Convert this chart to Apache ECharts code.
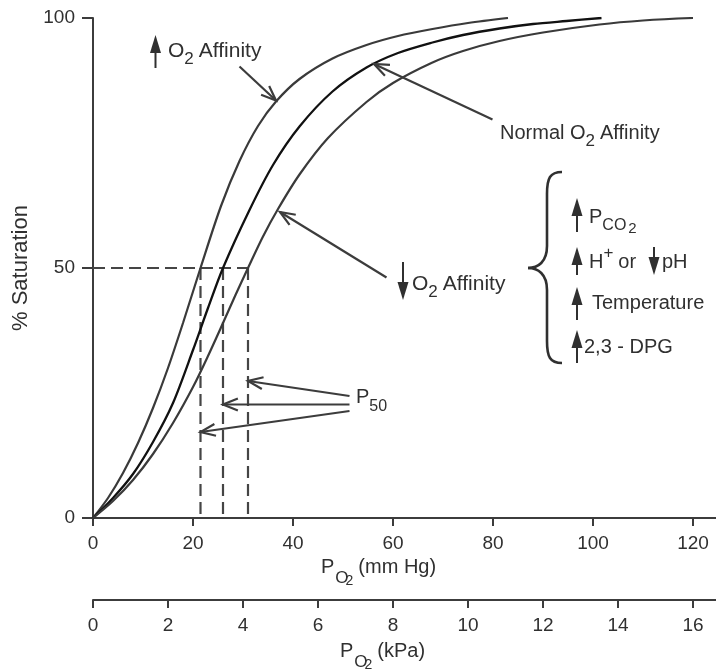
<!DOCTYPE html>
<html>
<head>
<meta charset="utf-8">
<script src="https://cdn.jsdelivr.net/npm/echarts@6/dist/echarts.min.js"></script>
<style>
  html, body { margin: 0; padding: 0; background: #fff; }
  #chart { width: 716px; height: 671px; }
</style>
</head>
<body>
<div id="chart"></div>
<script>
// ---- data ----
const pressureTicks = [0, 20, 40, 60, 80, 100, 120];      // mm Hg
const kpaTicks = [0, 2, 4, 6, 8, 10, 12, 14, 16];          // kPa
const saturationTicks = [0, 50, 100];                      // %

// oxyhaemoglobin dissociation curves: [PO2 mm Hg, % saturation]
const highAffinity = [
  [0, 0], [3, 4], [6, 9], [9, 15], [12, 22], [15, 30], [18, 39], [21.5, 50],
  [25.6, 62.4], [29.3, 71.4], [33, 78.4], [36.6, 83.3], [41.3, 87.8], [47.9, 91.9],
  [54.7, 94.6], [61, 96.4], [67.9, 97.8], [75, 99], [83, 100]
];
const normalAffinity = [
  [0, 0], [4, 4], [8, 8.8], [12, 15.2], [16, 23], [20, 33.6], [23, 42], [26, 50],
  [31.3, 61.6], [36, 70.6], [41.3, 78.3], [47.9, 85.3], [54.7, 90.1], [61, 93],
  [67.9, 95.1], [74, 96.6], [81.3, 97.9], [88, 98.8], [94.7, 99.4], [101.7, 100]
];
const lowAffinity = [
  [0, 0], [4, 3.4], [8, 7.6], [12, 12.8], [16, 19], [20, 26.2], [23, 32.4], [26, 39],
  [28.5, 44.6], [31, 50], [34, 56.3], [37, 61.8], [41.3, 68.7], [47, 76], [54.7, 83.2],
  [60, 87], [67.9, 91.1], [74, 93.4], [81.3, 95.4], [90, 97.1], [101.3, 98.7],
  [110, 99.5], [120, 100]
];
const p50Values = [21.5, 26, 31];     // PO2 at 50 % saturation
const p50Level = 50;

// pointer arrows in data units: [fromPO2, fromSat, toPO2, toSat]
const pointers = [
  [29.3, 90.3, 36.6, 83.5],
  [79.9, 79.7, 56.2, 90.8],
  [58.7, 48.1, 37.4, 61.2],
  [51.3, 24.4, 31, 27.4],
  [51.3, 22.7, 26, 22.7],
  [51.3, 21.4, 21.5, 17.2]
];

// ---- styling ----
const FONT = '"Liberation Sans", Arial, Helvetica, sans-serif';
const INK = '#303030';
const LINE = '#3c3c3c';
const KPA_PER_MMHG = 1 / 7.5;
const X_MAX = 124.6;

const chart = echarts.init(document.getElementById('chart'), null, { renderer: 'canvas' });

const curveStyle = (color, width) => ({
  type: 'line', showSymbol: false, smooth: 0.3,
  lineStyle: { color: color, width: width }, silent: true, z: 3
});

const dashed = { color: '#454545', width: 2.2, type: [12, 6] };
const dashSeries = [
  {
    type: 'line', showSymbol: false, silent: true, z: 2,
    data: [[0, p50Level], [Math.max(...p50Values), p50Level]],
    lineStyle: dashed
  }
].concat(p50Values.map(v => ({
  type: 'line', showSymbol: false, silent: true, z: 2,
  data: [[v, p50Level], [v, 0]],
  lineStyle: dashed
})));

const pointerSeries = {
  type: 'custom', silent: true, clip: false, z: 4,
  data: pointers,
  encode: { x: [0, 2], y: [1, 3] },
  renderItem: function (params, api) {
    const a = api.coord([api.value(0), api.value(1)]);
    const b = api.coord([api.value(2), api.value(3)]);
    const ang = Math.atan2(b[1] - a[1], b[0] - a[0]);
    const L = 16, spread = 0.38;
    const h1 = [b[0] - L * Math.cos(ang - spread), b[1] - L * Math.sin(ang - spread)];
    const h2 = [b[0] - L * Math.cos(ang + spread), b[1] - L * Math.sin(ang + spread)];
    const st = { stroke: LINE, lineWidth: 2.2, fill: null, lineJoin: 'miter' };
    return {
      type: 'group',
      children: [
        { type: 'line', shape: { x1: a[0], y1: a[1], x2: b[0], y2: b[1] }, style: st },
        { type: 'polyline', shape: { points: [h1, b, h2] }, style: st }
      ]
    };
  }
};

const axisText = { color: INK, fontSize: 19, fontFamily: FONT };
const axisLine = { show: true, lineStyle: { color: LINE, width: 2 } };

chart.setOption({
  animation: false,
  backgroundColor: '#ffffff',
  grid: [
    { left: 93, right: 0, top: 18, height: 500 },
    { left: 93, right: 0, top: 599, height: 1 }
  ],
  xAxis: [
    {
      type: 'value', gridIndex: 0, min: 0, max: X_MAX, interval: 20,
      axisLine: axisLine,
      axisTick: { show: true, length: 8, lineStyle: { color: LINE, width: 2 }, customValues: pressureTicks },
      axisLabel: Object.assign({ margin: 16, customValues: pressureTicks }, axisText),
      splitLine: { show: false }
    },
    {
      type: 'value', gridIndex: 1, min: 0, max: X_MAX * KPA_PER_MMHG, interval: 2,
      axisLine: axisLine,
      axisTick: { show: true, length: 8, lineStyle: { color: LINE, width: 2 }, customValues: kpaTicks },
      axisLabel: Object.assign({ margin: 16, customValues: kpaTicks }, axisText),
      splitLine: { show: false }
    }
  ],
  yAxis: [
    {
      type: 'value', gridIndex: 0, min: 0, max: 100, interval: 50,
      name: '% Saturation', nameLocation: 'middle', nameGap: 60,
      nameTextStyle: { color: INK, fontSize: 22, fontFamily: FONT },
      axisLine: axisLine,
      axisTick: { show: true, length: 11, lineStyle: { color: LINE, width: 2 }, customValues: saturationTicks },
      axisLabel: Object.assign({ margin: 18, customValues: saturationTicks }, axisText),
      splitLine: { show: false }
    },
    {
      type: 'value', gridIndex: 0, min: 0, max: 100, interval: 50, position: 'left',
      axisLine: { show: false },
      axisTick: { show: true, inside: true, length: 7, lineStyle: { color: LINE, width: 2 }, customValues: [0, 50] },
      axisLabel: { show: false },
      splitLine: { show: false }
    },
    { type: 'value', gridIndex: 1, min: 0, max: 1, show: false }
  ],
  series: [
    Object.assign(curveStyle('#3a3a3a', 2.2), { data: highAffinity }),
    Object.assign(curveStyle('#111111', 2.3), { data: normalAffinity }),
    Object.assign(curveStyle('#3a3a3a', 2.2), { data: lowAffinity })
  ].concat(dashSeries, [pointerSeries])
});

// ---- annotation text with sub/superscripts ----
const measureCtx = document.createElement('canvas').getContext('2d');
function textWidth(t, size) {
  measureCtx.font = size + 'px ' + FONT;
  return measureCtx.measureText(t).width;
}
// parts: {t, size, dy, gap, dx}; cy = cap-centre line of the main text
function textRun(x, cy, parts) {
  const out = [];
  let cur = x;
  parts.forEach(p => {
    cur += (p.dx || 0);
    out.push({
      type: 'text', x: cur, y: cy + (p.dy || 0), silent: true,
      style: {
        text: p.t, font: p.size + 'px ' + FONT, fill: INK,
        align: 'left', verticalAlign: 'middle'
      }
    });
    cur += textWidth(p.t, p.size) + (p.gap || 0);
  });
  return out;
}
// filled-head arrow glyphs (up / down)
function glyphArrow(cx, y0, y1, up) {
  const w = 11, h = 18;
  const head = up
    ? [[cx, y0], [cx - w / 2, y0 + h], [cx + w / 2, y0 + h]]
    : [[cx, y1], [cx - w / 2, y1 - h], [cx + w / 2, y1 - h]];
  const stem = up ? { x1: cx, y1: y0 + h - 1, x2: cx, y2: y1 } : { x1: cx, y1: y0, x2: cx, y2: y1 - h + 1 };
  return [
    { type: 'polygon', silent: true, shape: { points: head }, style: { fill: INK } },
    { type: 'line', silent: true, shape: stem, style: { stroke: INK, lineWidth: 2 } }
  ];
}
// curly brace opening to the right, tip on the left
function brace(xEnd, xStem, xTip, yTop, yMid, yBot) {
  const st = { stroke: INK, lineWidth: 2.6, fill: null };
  const k = 22;
  return [
    { type: 'bezierCurve', silent: true, shape: { x1: xEnd, y1: yTop, cpx1: xStem + 3, cpy1: yTop, cpx2: xStem, cpy2: yTop + 6, x2: xStem, y2: yTop + k }, style: st },
    { type: 'line', silent: true, shape: { x1: xStem, y1: yTop + k, x2: xStem, y2: yMid - k }, style: st },
    { type: 'bezierCurve', silent: true, shape: { x1: xStem, y1: yMid - k, cpx1: xStem, cpy1: yMid - 6, cpx2: xTip + 10, cpy2: yMid, x2: xTip, y2: yMid }, style: st },
    { type: 'bezierCurve', silent: true, shape: { x1: xTip, y1: yMid, cpx1: xTip + 10, cpy1: yMid, cpx2: xStem, cpy2: yMid + 6, x2: xStem, y2: yMid + k }, style: st },
    { type: 'line', silent: true, shape: { x1: xStem, y1: yMid + k, x2: xStem, y2: yBot - k }, style: st },
    { type: 'bezierCurve', silent: true, shape: { x1: xStem, y1: yBot - k, cpx1: xStem, cpy1: yBot - 6, cpx2: xStem + 3, cpy2: yBot, x2: xEnd, y2: yBot }, style: st }
  ];
}

const S = 20;
let g = [];
// increased affinity label
g = g.concat(glyphArrow(155.5, 35, 68, true));
g = g.concat(textRun(168, 51, [
  { t: 'O', size: 21 }, { t: '2', size: 17, dy: 8, gap: 5 }, { t: 'Affinity', size: 21 }
]));
// normal affinity label
g = g.concat(textRun(500, 133, [
  { t: 'Normal O', size: S }, { t: '2', size: 17, dy: 8, gap: 5 }, { t: 'Affinity', size: S }
]));
// decreased affinity label
g = g.concat(glyphArrow(403, 262, 300, false));
g = g.concat(textRun(412, 284, [
  { t: 'O', size: 21 }, { t: '2', size: 17, dy: 8, gap: 5 }, { t: 'Affinity', size: 21 }
]));
// brace
g = g.concat(brace(562, 547, 528, 172, 268, 363));
// factors that lower affinity
g = g.concat(glyphArrow(577, 198, 232, true));
g = g.concat(textRun(589, 217, [
  { t: 'P', size: S }, { t: 'CO', size: 16, dy: 9 }, { t: '2', size: 15, dy: 12, dx: 2 }
]));
g = g.concat(glyphArrow(577, 247, 275, true));
g = g.concat(textRun(589, 262, [
  { t: 'H', size: S }, { t: '+', size: 17, dy: -9, gap: 5 }, { t: 'or', size: S, gap: 5 }
]));
g = g.concat(glyphArrow(654, 247, 275, false));
g = g.concat(textRun(662, 262, [{ t: 'pH', size: S }]));
g = g.concat(glyphArrow(577, 287, 320, true));
g = g.concat(textRun(592, 303, [{ t: 'Temperature', size: S }]));
g = g.concat(glyphArrow(577, 330, 363, true));
g = g.concat(textRun(584, 347, [{ t: '2,3 - DPG', size: S }]));
// P50 label
g = g.concat(textRun(356, 397, [{ t: 'P', size: S }, { t: '50', size: 16, dy: 10 }]));
// axis titles
g = g.concat(textRun(321, 567, [
  { t: 'P', size: S, gap: 1 }, { t: 'O', size: 17, dy: 11, gap: -3 }, { t: '2', size: 14, dy: 14, gap: 5 },
  { t: '(mm Hg)', size: S }
]));
g = g.concat(textRun(340, 651, [
  { t: 'P', size: S, gap: 1 }, { t: 'O', size: 17, dy: 11, gap: -3 }, { t: '2', size: 14, dy: 14, gap: 5 },
  { t: '(kPa)', size: S }
]));

chart.setOption({ graphic: { elements: g } });
</script>
</body>
</html>
